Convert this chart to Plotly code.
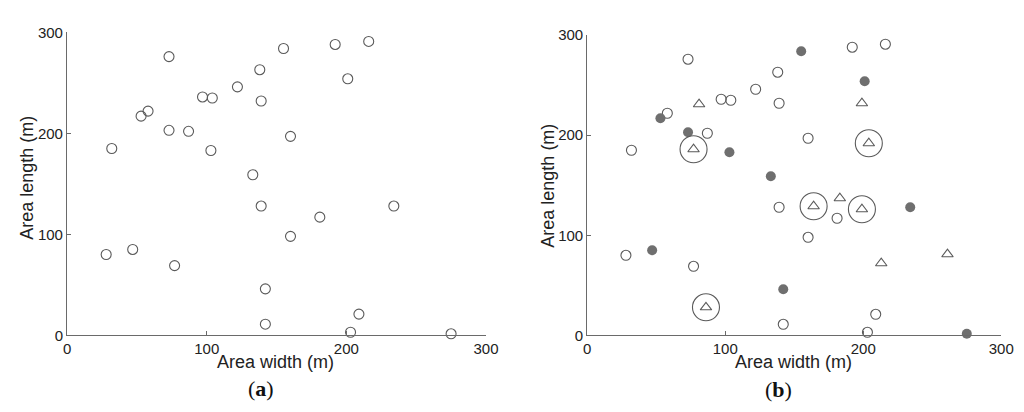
import plotly.graph_objects as go

# Sensor positions (m)
px = [28, 32, 47, 53, 58, 73, 73, 77, 87, 97, 104, 103, 122, 133, 138, 139, 139, 142, 142,
      155, 160, 160, 181, 192, 201, 203, 209, 216, 234, 275]
py = [80, 185, 85, 217, 222, 276, 203, 69, 202, 236, 235, 183, 246, 159, 263, 232, 128, 46, 11,
      284, 197, 98, 117, 288, 254, 3, 21, 291, 128, 1.5]
# 1 = filled (selected) in panel (b)
selected = [0, 0, 1, 1, 0, 0, 1, 0, 0, 0, 0, 1, 0, 1, 0, 0, 0, 1, 0,
            1, 0, 0, 0, 0, 1, 0, 0, 0, 1, 1]

# Triangles in panel (b)
tx = [81, 77, 199, 204, 164, 183, 199, 261, 213, 86]
ty = [231, 186, 232, 192, 129, 137, 126, 81, 72, 28]
circled = [0, 1, 0, 1, 1, 0, 1, 0, 0, 1]

ticks = [0, 100, 200, 300]

MC = "#5a5a5a"
FILL = "#6f6f6f"

fig = go.Figure()

# Panel (a)
fig.add_trace(go.Scatter(x=px, y=py, mode="markers", xaxis="x", yaxis="y",
                         marker=dict(symbol="circle-open", size=10, color=MC, line=dict(width=1.1)),
                         cliponaxis=False, showlegend=False))

# Panel (b)
ox = [x for x, s in zip(px, selected) if not s]
oy = [y for y, s in zip(py, selected) if not s]
fx = [x for x, s in zip(px, selected) if s]
fy = [y for y, s in zip(py, selected) if s]
fig.add_trace(go.Scatter(x=ox, y=oy, mode="markers", xaxis="x2", yaxis="y2",
                         marker=dict(symbol="circle-open", size=10, color=MC, line=dict(width=1.1)),
                         cliponaxis=False, showlegend=False))
fig.add_trace(go.Scatter(x=fx, y=fy, mode="markers", xaxis="x2", yaxis="y2",
                         marker=dict(symbol="circle", size=10, color=FILL, line=dict(width=0)),
                         cliponaxis=False, showlegend=False))
fig.add_trace(go.Scatter(x=tx, y=ty, mode="markers", xaxis="x2", yaxis="y2",
                         marker=dict(symbol="triangle-up-open", size=10, color=MC, line=dict(width=1.1)),
                         cliponaxis=False, showlegend=False))
cx = [x for x, c in zip(tx, circled) if c]
cy = [y for y, c in zip(ty, circled) if c]
fig.add_trace(go.Scatter(x=cx, y=cy, mode="markers", xaxis="x2", yaxis="y2",
                         marker=dict(symbol="circle-open", size=27, color=MC, line=dict(width=1.1)),
                         cliponaxis=False, showlegend=False))

axis_common = dict(range=[0, 300], tickvals=ticks, ticks="inside", ticklen=4, tickcolor="#6a6a6a",
                   showline=True, linecolor="#6a6a6a", linewidth=1.2, showgrid=False, zeroline=False,
                   tickfont=dict(family="Liberation Sans, Arial", size=15, color="#222222"))

fig.update_layout(
    width=1024, height=412,
    margin=dict(l=0, r=0, t=0, b=0),
    paper_bgcolor="white", plot_bgcolor="white",
    xaxis=dict(domain=[56 / 1024, 482 / 1024], anchor="y", **axis_common),
    yaxis=dict(domain=[1 - 332 / 412, 1 - 16 / 412], anchor="x", **axis_common),
    xaxis2=dict(domain=[585 / 1024, 1006 / 1024], anchor="y2", **axis_common),
    yaxis2=dict(domain=[1 - 332 / 412, 1 - 19 / 412], anchor="x2", **axis_common),
)

tfont = dict(family="Liberation Sans, Arial", size=18, color="#222222")
lfont = dict(family="Liberation Serif, Times New Roman", size=22, color="#111111")
annots = [
    dict(text="Area width (m)", x=268 / 1024, y=1 - 360 / 412, font=tfont),
    dict(text="Area length (m)", x=15 / 1024, y=1 - 168 / 412, font=tfont, textangle=-90),
    dict(text="Area width (m)", x=795 / 1024, y=1 - 360 / 412, font=tfont),
    dict(text="Area length (m)", x=545 / 1024, y=1 - 176 / 412, font=tfont, textangle=-90),
    dict(text="(<b>a</b>)", x=253 / 1024, y=1 - 388 / 412, font=lfont),
    dict(text="(<b>b</b>)", x=779 / 1024, y=1 - 389 / 412, font=lfont),
]
for a in annots:
    fig.add_annotation(xref="paper", yref="paper", showarrow=False,
                       xanchor="center", yanchor="middle", **a)

fig.write_html("out.html")
